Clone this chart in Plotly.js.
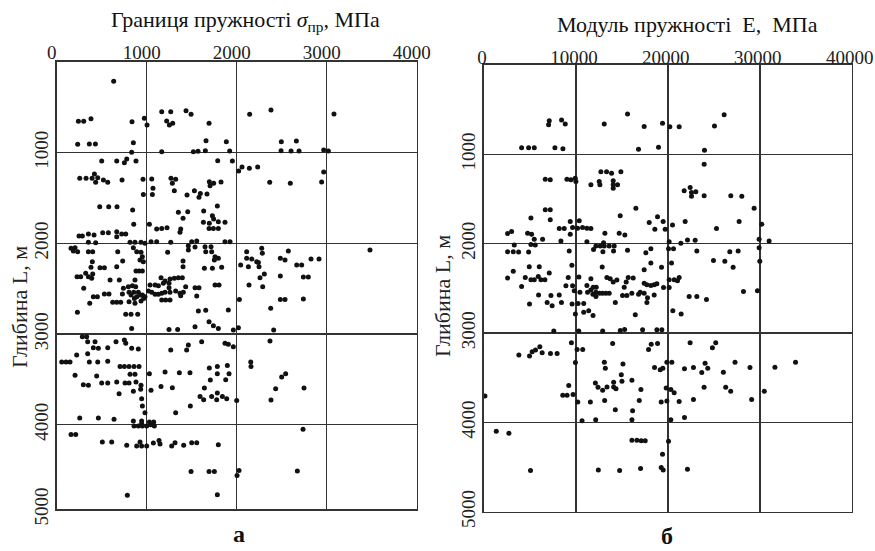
<!DOCTYPE html>
<html>
<head>
<meta charset="utf-8">
<script src="https://cdn.plot.ly/plotly-3.0.1.min.js"></script>
<style>html,body{margin:0;padding:0;background:#fff;}#chart{width:875px;height:551px;}</style>
</head>
<body>
<div id="chart"></div>
<script>
// Panel а: межа пружності σпр (МПа) vs глибина L (м)
const sigmaX = [
633,241,300,381,837,974,1004,1167,1267,1437,1493,1222,1252,1289,1693,2144,2381,3081,
233,363,430,852,833,1167,1519,1570,1652,1659,1885,1922,2496,2663,2493,2604,2693,2967,3019,
500,667,752,778,881,256,326,393,419,456,433,519,567,726,959,1056,1070,963,1063,
1270,1322,1285,1307,1448,1530,1596,1581,1670,1696,1744,1704,1826,1789,1952,
2022,2059,2141,2233,2367,2596,2944,2967,478,578,670,844,1785,
1352,1456,1404,1633,1730,1744,1630,1696,1796,1870,1693,1741,1796,856,1030,1111,1167,1226,1378,1370,
248,285,352,415,511,574,667,722,767,667,352,433,815,870,937,981,1048,1111,1267,1500,1556,1870,1926,
159,204,185,233,352,400,678,852,889,937,952,926,963,1233,1404,1404,1463,1537,1463,
1648,1715,1656,1722,1759,1796,1752,396,381,481,530,667,733,1641,1730,1833,
226,267,322,352,400,389,300,593,696,870,881,915,952,367,407,452,530,581,622,667,711,730,
804,863,870,937,967,981,952,804,856,826,907,926,889,741,796,841,878,1037,1093,1130,1185,
1019,1056,1093,1130,1167,1204,1259,1248,1159,1204,1259,1307,1352,1396,1248,1167,1211,1259,
1322,1370,1407,1433,1378,1537,1581,1556,1759,1804,1574,1656,1907,230,767,826,900,833,1248,1344,
1537,1693,1741,1796,1963,2019,2044,2030,2111,2278,2285,2111,2167,2222,2241,2130,2248,
2574,2485,2537,2667,2722,2826,2915,2259,2307,2137,2289,2485,2741,2796,2485,2537,2741,2378,2411,3481,
285,333,344,426,407,463,567,659,752,767,833,907,222,344,1267,1444,1463,1611,1870,1907,1963,2370,
56,104,148,363,456,567,204,704,752,804,859,915,815,870,444,296,352,500,567,667,759,804,
881,937,933,693,852,944,952,981,1048,1030,1204,1159,1285,1363,1481,1696,1785,1896,1785,1915,
1707,1878,1641,1593,1633,1722,1785,1778,1841,1889,2000,1485,1322,2156,2159,2500,2544,2433,2381,2748,
256,463,637,852,944,1030,1078,944,859,907,952,1000,1044,1085,159,211,507,611,778,889,944,1000,926,
1074,1137,1148,1278,1315,1411,1500,1556,1796,2737,1493,1693,1752,2026,2004,2674,785,1785
];
const sigmaDepth = [
213,654,654,625,658,621,695,548,548,537,577,651,695,676,676,577,529,574,
908,904,904,890,996,989,989,985,978,868,879,982,879,871,978,982,982,971,982,
1092,1092,1110,1070,1092,1283,1283,1283,1235,1276,1327,1301,1327,1301,1294,1290,1393,1460,1460,
1283,1294,1338,1419,1467,1419,1449,1493,1456,1320,1338,1364,1324,1088,1092,
1202,1158,1173,1158,1327,1338,1324,1213,1596,1596,1596,1632,1588,
1658,1651,1724,1643,1695,1732,1768,1779,1761,1768,1835,1835,1835,1790,1790,1842,1835,1827,1842,1879,
1919,1919,1897,1908,1882,1882,1871,1897,1897,1926,1989,1993,1989,1989,1989,2000,1982,1982,1989,1982,1974,1982,1982,
2055,2048,2085,2092,2092,2092,2092,2048,2092,2099,2147,2184,2202,2099,2195,2257,2074,2040,2026,
2037,2037,2092,2092,2147,2165,2184,2202,2265,2268,2268,2257,2195,2276,2276,2265,
2368,2368,2331,2368,2338,2386,2496,2404,2404,2404,2305,2305,2305,2662,2588,2588,2559,2559,2651,2651,2651,2559,
2643,2607,2662,2636,2607,2588,2570,2540,2540,2570,2540,2570,2588,2496,2478,2467,2478,2460,2460,2467,2441,
2526,2540,2562,2562,2551,2540,2540,2489,2379,2415,2393,2386,2379,2379,2441,2625,2625,2625,
2526,2551,2540,2478,2577,2489,2489,2581,2460,2460,2746,2739,2735,2761,2783,2783,2783,2938,2949,2949,
2919,2864,2908,2938,2956,2930,2239,2618,2092,2055,2110,2165,2173,2202,2210,2257,2257,
2085,2165,2184,2239,2239,2173,2173,2379,2338,2460,2478,2360,2371,2371,2618,2618,2614,2717,2956,2074,
3029,3029,3085,3085,3151,3158,3151,3085,3066,3103,3158,3165,3232,3217,3176,3176,3121,3085,3103,3114,3140,3077,
3309,3309,3309,3309,3309,3301,3456,3357,3357,3357,3357,3357,3445,3445,3463,3559,3566,3540,3540,3529,3540,3540,
3529,3566,3610,3658,3632,3713,3794,3868,3621,3437,3419,3580,3592,3426,3426,3375,3357,3346,3438,3438,
3507,3504,3596,3688,3724,3688,3651,3724,3688,3713,3732,3794,3868,3309,3357,3474,3437,3603,3728,3596,
3926,3926,3941,3960,3960,3971,3971,3989,4015,4015,4015,4015,4000,4015,4107,4107,4191,4191,4228,4235,4235,4235,4191,
4202,4173,4213,4235,4198,4228,4198,4198,4220,4051,4515,4515,4515,4504,4559,4511,4779,4772
];

// Panel б: модуль пружності E (МПа) vs глибина L (м)
const modX = [
7101,7029,8442,8841,4094,4855,5471,7717,8587,13080,15616,17427,19420,20217,21231,25072,26123,16811,18985,23985,
6667,7210,9022,9456,9927,10000,11630,12536,12609,12717,13333,13877,14891,14058,14058,14529,14058,
21775,22427,22572,23043,22572,23949,23949,26848,28043,29384,16522,6667,7210,
5109,7210,9384,10362,8188,8732,9384,9638,10181,10724,11196,11630,14819,14710,15326,13152,
17971,18877,19493,18587,19710,20507,21884,25290,27754,30217,2572,3007,4746,5181,5471,6377,5109,5580,8369,3297,
2572,3188,3768,4855,9275,11196,12174,12645,13007,13080,13623,14167,11920,12935,14094,15616,17609,18152,
20145,20072,20616,21413,22138,22971,23152,24964,26196,26739,27645,27101,29928,29928,30000,31014,
9565,12862,18152,17427,19312,20399,3188,2572,4927,6014,
4493,5109,5471,5906,6196,6630,7101,4094,9167,10326,11630,8913,9638,11196,11884,12210,
13370,13732,14058,14457,15688,16232,15471,15254,17427,17717,18152,18514,18804,19529,20145,
20145,20688,21051,21232,9819,10435,11268,11630,12174,11848,12174,12572,12899,13261,13623,
15072,15543,16087,16812,16993,17427,17790,18514,5942,7283,8188,22319,23152,24203,28225,29746,
4955,6872,7414,8427,9584,10235,10850,9946,10850,11392,11863,14286,17722,16456,20542,21446,
7595,10307,12911,14828,15298,17251,18807,19349,
9512,10127,10741,13996,17902,18192,18879,22423,24846,25208,
3797,4955,5244,5606,6076,6329,7233,7957,9946,13092,13201,15118,18553,19168,19458,19892,20434,
21808,22785,23689,24051,24340,26040,27306,28933,31646,33888,14937,
12116,12405,12911,13382,14105,14105,14358,15009,16094,17071,13128,11573,10199,9222,8571,9042,9693,108,
14286,16166,16890,19277,19819,20325,20687,19892,21230,22785,23942,26293,26836,29114,30488,
10669,12152,16094,20325,21808,1338,2712,16094,16637,17107,17541,20072,19421,
5063,12441,14756,17034,19277,19494,22134
];
const modDepth = [
623,668,615,660,925,925,925,925,936,660,547,687,653,691,691,683,558,943,921,955,
1278,1285,1278,1285,1267,1304,1341,1304,1341,1196,1196,1211,1196,1296,1341,1341,1378,
1407,1370,1426,1419,1470,1463,1111,1463,1470,1604,1604,1619,1619,
1713,1732,1751,1743,1830,1830,1894,1819,1826,1819,1826,1830,1687,1883,1902,1883,
1762,1698,1751,1838,1838,1792,1751,1830,1751,1781,1887,1864,1883,1894,1951,1951,2008,2015,1970,2015,
2091,2091,2094,2094,2083,1977,2026,2026,1989,2026,2026,2026,2064,2091,2083,2072,2102,2057,
1977,2057,2057,1996,1958,1962,2083,2189,2196,2091,2083,2264,1951,2045,2196,1970,
2242,2260,2215,2291,2264,2215,2309,2385,2257,2257,
2377,2404,2404,2366,2404,2404,2328,2479,2377,2374,2392,2472,2472,2468,2487,2487,
2377,2392,2430,2407,2377,2385,2430,2487,2442,2460,2468,2460,2449,2490,2490,
2404,2404,2415,2377,2528,2543,2543,2517,2543,2566,2592,2555,2555,2555,2555,
2581,2581,2555,2566,2543,2555,2604,2574,2574,2581,2574,2592,2592,2626,2536,2528,
2676,2658,2695,2658,2676,2669,2669,2787,2768,2750,2805,2658,2658,2794,2750,2787,
2978,2978,2978,2971,2960,2963,2963,2963,
3110,3184,3184,3118,3184,3125,3118,3110,3165,3110,
3246,3257,3210,3191,3154,3220,3228,3228,3331,3327,3393,3346,3386,3412,3393,3327,3327,
3401,3386,3441,3338,3393,3438,3327,3386,3382,3327,3467,
3559,3607,3640,3603,3551,3603,3625,3540,3529,3632,3754,3772,3772,3588,3695,3695,3688,3706,
3860,3871,3754,3772,3614,3632,3669,3761,3765,3743,3607,3607,3651,3743,3651,
3982,3971,3971,3971,3945,4099,4121,4200,4200,4206,4206,4210,4357,
4540,4533,4540,4515,4504,4533,4526
];

// Tick labels
const sigmaTicks = [0, 1000, 2000, 3000, 4000];
const sigmaTickText = ['0', '1000', '2000', '3000', '4000'];
const modTicks = [0, 10000, 20000, 30000, 40000];
const modTickText = ['0', '10000', '20000', '30000', '40000'];
const depthTicks = [1000, 2000, 3000, 4000];
const depthTickText = ['1000', '2000', '3000', '4000', '5000'];

const serif = 'Liberation Serif, Times New Roman, serif';
const lineCol = '#333333';
const mk = {size: 5, color: '#111111'};

const traces = [
  {x: sigmaX, y: sigmaDepth, type: 'scatter', mode: 'markers', marker: mk, xaxis: 'x', yaxis: 'y', hoverinfo: 'x+y'},
  {x: modX, y: modDepth, type: 'scatter', mode: 'markers', marker: mk, xaxis: 'x2', yaxis: 'y2', hoverinfo: 'x+y'}
];

const axCommon = {
  showgrid: true, gridcolor: lineCol, gridwidth: 1.5,
  showline: true, mirror: true, linecolor: lineCol, linewidth: 1.6,
  zeroline: false, ticks: '', fixedrange: true, ticklabeloverflow: 'allow',
  tickfont: {family: serif, size: 19, color: '#222'}
};

const layout = {
  width: 875, height: 551,
  margin: {l: 0, r: 0, t: 0, b: 0},
  paper_bgcolor: '#fff', plot_bgcolor: '#fff',
  showlegend: false,
  xaxis: Object.assign({}, axCommon, {
    domain: [0.0648, 0.4762], range: [0, 4000], side: 'top', anchor: 'y',
    tickvals: sigmaTicks, ticktext: sigmaTickText, ticklabelshift: -5, ticklabelstandoff: -6
  }),
  yaxis: Object.assign({}, axCommon, {
    domain: [0.0757, 0.8875], range: [4933, 0], anchor: 'x',
    tickvals: depthTicks.concat([4933]), ticktext: depthTickText, tickangle: -90
  }),
  xaxis2: Object.assign({}, axCommon, {
    domain: [0.5531, 0.9734], range: [0, 40000], side: 'top', anchor: 'y2',
    tickvals: modTicks, ticktext: modTickText, ticklabelshift: -2, ticklabelstandoff: -8
  }),
  yaxis2: Object.assign({}, axCommon, {
    domain: [0.0713, 0.8820], range: [5000, 0], anchor: 'x2',
    tickvals: depthTicks.concat([5000]), ticktext: depthTickText, tickangle: -90
  }),
  annotations: [
    {text: 'Границя пружності <i>σ</i><sub>пр</sub>, МПа', x: 245/875, y: 1 - 21/551, xref: 'paper', yref: 'paper',
     showarrow: false, xanchor: 'center', yanchor: 'middle', font: {family: serif, size: 22, color: '#111'}},
    {text: 'Модуль пружності\u00a0 E,\u00a0 МПа', x: 687/875, y: 1 - 24/551, xref: 'paper', yref: 'paper',
     showarrow: false, xanchor: 'center', yanchor: 'middle', font: {family: serif, size: 22, color: '#111'}},
    {text: 'Глибина L, м', x: 19/875, y: 1 - 307/551, xref: 'paper', yref: 'paper', textangle: -90,
     showarrow: false, xanchor: 'center', yanchor: 'middle', font: {family: serif, size: 22, color: '#222'}},
    {text: 'Глибина L, м', x: 442/875, y: 1 - 296/551, xref: 'paper', yref: 'paper', textangle: -90,
     showarrow: false, xanchor: 'center', yanchor: 'middle', font: {family: serif, size: 22, color: '#222'}},
    {text: '<b>а</b>', x: 239/875, y: 1 - 534/551, xref: 'paper', yref: 'paper',
     showarrow: false, xanchor: 'center', yanchor: 'middle', font: {family: serif, size: 24, color: '#111'}},
    {text: '<b>б</b>', x: 667/875, y: 1 - 536/551, xref: 'paper', yref: 'paper',
     showarrow: false, xanchor: 'center', yanchor: 'middle', font: {family: serif, size: 24, color: '#111'}}
  ]
};

Plotly.newPlot('chart', traces, layout, {staticPlot: true, displayModeBar: false});
</script>
</body>
</html>
